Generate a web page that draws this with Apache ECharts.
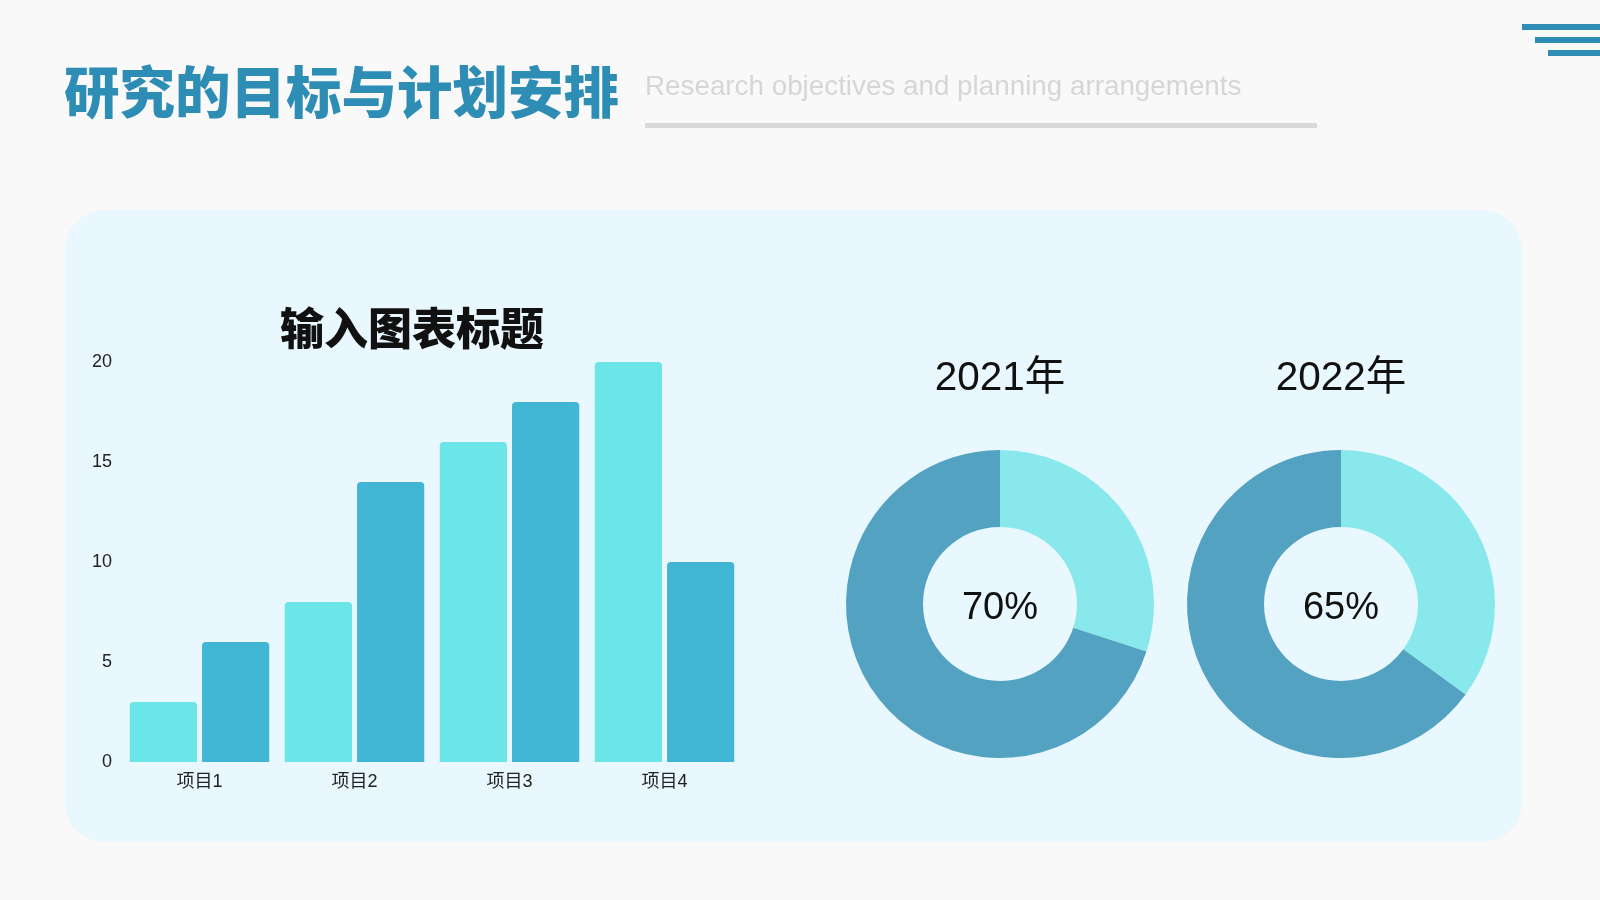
<!DOCTYPE html>
<html>
<head>
<meta charset="utf-8">
<script src="https://cdn.jsdelivr.net/npm/echarts@6/dist/echarts.min.js"></script>
<style>
html,body{margin:0;padding:0;background:#F9F9F9;}
#main{width:1600px;height:900px;}
</style>
</head>
<body>
<div id="main"></div>
<script>
const categories = ['项目1', '项目2', '项目3', '项目4'];
const seriesA = [3, 8, 16, 20];
const seriesB = [6, 14, 18, 10];
const yTicks = { min: 0, max: 20, interval: 5 };
const pieYears = ['2021年', '2022年'];
const pieMain = [70, 65];
const pieRest = [30, 35];

const CJK = '"Liberation Sans","Noto Sans CJK SC",sans-serif';

const chart = echarts.init(document.getElementById('main'), null, { renderer: 'canvas' });

function pieSeries(i, cx) {
  return {
    type: 'pie',
    center: [cx, 604],
    radius: [77, 154],
    startAngle: 90,
    clockwise: true,
    silent: true,
    label: { show: false },
    labelLine: { show: false },
    data: [
      { value: pieRest[i], name: 'rest', itemStyle: { color: '#89E8EC' } },
      {
        value: pieMain[i], name: 'main', itemStyle: { color: '#53A2C2' },
        label: {
          show: true, position: 'center', formatter: '{v|{d}%}',
          rich: { v: { fontSize: 38, color: '#111', fontFamily: CJK, padding: [9, 0, 0, 0] } }
        }
      }
    ]
  };
}

const option = {
  backgroundColor: '#F9F9F9',
  animation: false,
  graphic: [
    { type: 'rect', z: -10, shape: { x: 65, y: 210, width: 1457, height: 632, r: 40 }, style: { fill: '#E9F7FE' } },
    { type: 'text', left: 64, top: 64, style: { text: '研究的目标与计划安排', font: '900 55.5px "Noto Sans CJK SC",serif', fill: '#2E8DB4' } },
    { type: 'text', left: 645, top: 73, style: { text: 'Research objectives and planning arrangements', font: '27.8px "Liberation Sans",Arial,sans-serif', fill: '#D6D6D6' } },
    { type: 'rect', shape: { x: 645, y: 123, width: 672, height: 5 }, style: { fill: '#D9D9D9' } },
    { type: 'rect', shape: { x: 1522, y: 24, width: 78, height: 6 }, style: { fill: '#2E8DB4' } },
    { type: 'rect', shape: { x: 1535, y: 37, width: 65, height: 6 }, style: { fill: '#2E8DB4' } },
    { type: 'rect', shape: { x: 1548, y: 50, width: 52, height: 6 }, style: { fill: '#2E8DB4' } }
  ],
  title: [
    { text: '输入图表标题', left: 407, top: 301, textAlign: 'center',
      textStyle: { fontSize: 44, fontWeight: 900, color: '#111', fontFamily: '"Noto Sans CJK SC",serif' } },
    { text: pieYears[0], left: 995, top: 354, textAlign: 'center',
      textStyle: { fontSize: 40.5, fontWeight: 'normal', color: '#111', fontFamily: CJK } },
    { text: pieYears[1], left: 1336, top: 354, textAlign: 'center',
      textStyle: { fontSize: 40.5, fontWeight: 'normal', color: '#111', fontFamily: CJK } }
  ],
  grid: { left: 122, top: 362, width: 620, height: 400, containLabel: false },
  xAxis: {
    type: 'category',
    data: categories,
    axisLine: { show: false },
    axisTick: { show: false },
    axisLabel: { fontSize: 18, color: '#222', margin: 11, fontFamily: CJK }
  },
  yAxis: {
    type: 'value',
    min: yTicks.min, max: yTicks.max, interval: yTicks.interval,
    splitLine: { show: false },
    axisLine: { show: false },
    axisTick: { show: false },
    axisLabel: { fontSize: 18, color: '#222', margin: 10, fontFamily: CJK }
  },
  series: [
    { type: 'bar', data: seriesA, barGap: '7.5%', barCategoryGap: '10%',
      itemStyle: { color: '#6BE5E8', borderRadius: [4, 4, 0, 0] }, silent: true },
    { type: 'bar', data: seriesB, barGap: '7.5%', barCategoryGap: '10%',
      itemStyle: { color: '#42B7D5', borderRadius: [4, 4, 0, 0] }, silent: true },
    pieSeries(0, 1000),
    pieSeries(1, 1341)
  ]
};
chart.setOption(option);
</script>
</body>
</html>
